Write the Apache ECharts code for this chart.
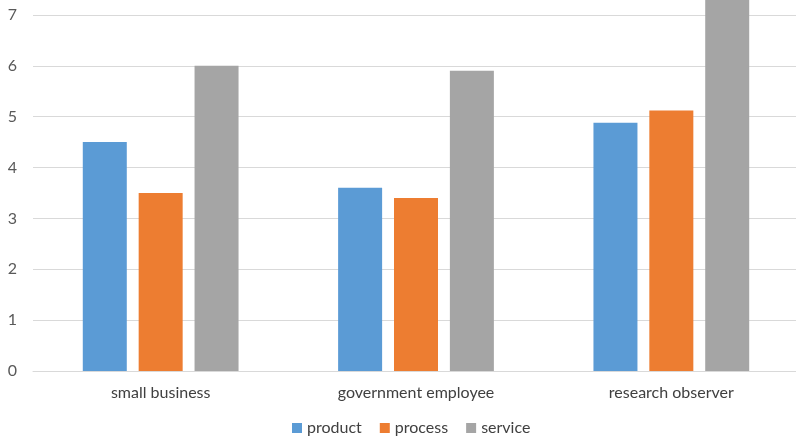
<!DOCTYPE html>
<html>
<head>
<meta charset="utf-8">
<script src="https://cdn.jsdelivr.net/npm/echarts@6/dist/echarts.min.js"></script>
<style>html,body{margin:0;padding:0;background:#fff}#c{width:796px;height:437px}</style>
</head>
<body>
<div id="c"></div>
<script>
const categories = ['small business', 'government employee', 'research observer'];
const product = [4.5, 3.6, 4.88];
const process = [3.5, 3.4, 5.12];
const service = [6.0, 5.9, 8.0];
const yTicks = [0, 1, 2, 3, 4, 5, 6, 7, 8];

const chart = echarts.init(document.getElementById('c'));
const font = 'Lato, "Open Sans", sans-serif';
chart.setOption({
  animation: false,
  textStyle: { fontFamily: font },
  grid: { left: 33, width: 766, bottom: 66, height: 407, containLabel: false, outerBoundsMode: 'none' },
  legend: {
    left: 287, top: 415,
    itemWidth: 10, itemHeight: 10, itemGap: 18,
    icon: 'rect',
    textStyle: { fontSize: 16, color: '#404040', fontFamily: font },
    data: ['product', 'process', 'service']
  },
  xAxis: {
    type: 'category',
    data: categories,
    axisLine: { lineStyle: { color: '#d9d9d9', width: 1 } },
    axisTick: { show: false },
    axisLabel: { fontSize: 16, color: '#404040', margin: 14, fontFamily: font }
  },
  yAxis: {
    type: 'value',
    min: yTicks[0], max: yTicks[yTicks.length - 1], interval: 1,
    axisLine: { show: false },
    axisTick: { show: false },
    splitLine: { lineStyle: { color: '#d9d9d9', width: 1 } },
    axisLabel: { fontSize: 16, color: '#595959', margin: 16, fontFamily: font }
  },
  series: [
    { name: 'product', type: 'bar', data: product, barWidth: 44, barGap: '27%', itemStyle: { color: '#5B9BD5' } },
    { name: 'process', type: 'bar', data: process, barWidth: 44, barGap: '27%', itemStyle: { color: '#ED7D31' } },
    { name: 'service', type: 'bar', data: service, barWidth: 44, barGap: '27%', itemStyle: { color: '#A5A5A5' } }
  ]
});
</script>
</body>
</html>
